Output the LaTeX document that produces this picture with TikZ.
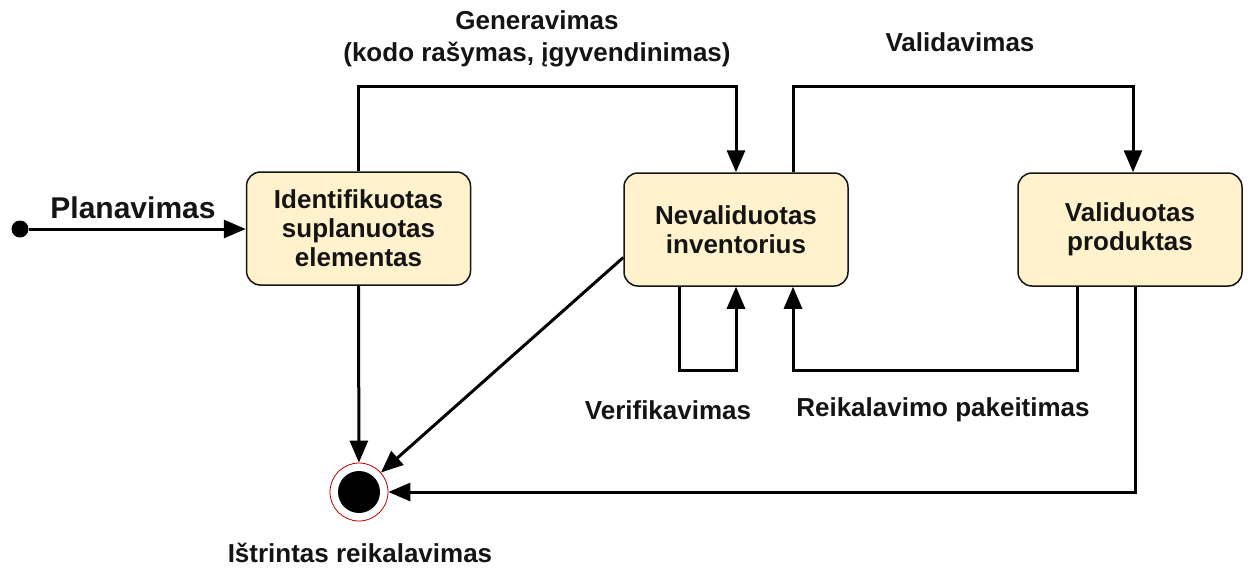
\documentclass[tikz,border=0pt]{standalone}
\usepackage{fontspec}
\setmainfont{Liberation Sans}
\usetikzlibrary{arrows.meta}
\definecolor{boxfill}{HTML}{FFF2CC}
\definecolor{ink}{HTML}{141414}
\definecolor{ringred}{HTML}{C00000}
\begin{document}
\begin{tikzpicture}[x=1pt,y=-1pt,
  statebox/.style={rectangle, rounded corners=14pt, draw=ink, fill=boxfill,
    line width=1.5pt, minimum width=224pt, minimum height=113pt, align=center,
    text=ink, font=\fontsize{26}{29}\selectfont\bfseries},
  lbl/.style={text=ink, align=center, font=\fontsize{26}{32}\selectfont\bfseries},
  flow/.style={draw=black, line width=3pt, -{Triangle[length=22pt,width=18pt]}}]
\useasboundingbox (0,0) rectangle (1251,571);

% states
\node[statebox] (ident) at (358.5,228.5) {Identifikuotas\\suplanuotas\\elementas};
\node[statebox] (neval) at (736,229.5) {Nevaliduotas\\inventorius};
\node[statebox] (valid) at (1130,229.5) {Validuotas\\produktas};

% initial and final pseudo-states
\node[circle, fill=black, inner sep=0pt, minimum size=17pt] (start) at (20,229) {};
\node[circle, draw=ringred, line width=0.8pt, fill=white, inner sep=0pt, minimum size=58pt] (final) at (359,492) {};
\fill[black] (final.center) circle (21);

% transitions
\draw[flow] (start) -- (start -| ident.west);
\draw[flow] (ident.north) -- ++(0,-85) -| (neval.north);
\draw[flow] ([xshift=57pt]neval.north) -- ++(0,-86) -| ([xshift=3pt]valid.north);
\draw[flow] ([xshift=-57pt]neval.south) -- ++(0,84) -| (neval.south);
\draw[flow] ([xshift=-53pt]valid.south) -- ++(0,84) -| ([xshift=57pt]neval.south);
\draw[flow] (ident.south) -- (final);
\draw[flow] ([yshift=-28pt]neval.west) -- (final);
\draw[flow] ([xshift=5pt]valid.south) |- (final);

% transition labels
\node[lbl, font=\fontsize{30}{34}\selectfont\bfseries] (lplan) at (133,208) {Planavimas};
\node[lbl] (lgen) at (537,39) {Generavimas\\(kodo rašymas, įgyvendinimas)};
\node[lbl] (lval) at (960,42) {Validavimas};
\node[lbl] (lver) at (668,410) {Verifikavimas};
\node[lbl] (lreq) at (943,410) {Reikalavimo pakeitimas};
\node[lbl] (ldel) at (360,553) {Ištrintas reikalavimas};
\end{tikzpicture}
\end{document}
